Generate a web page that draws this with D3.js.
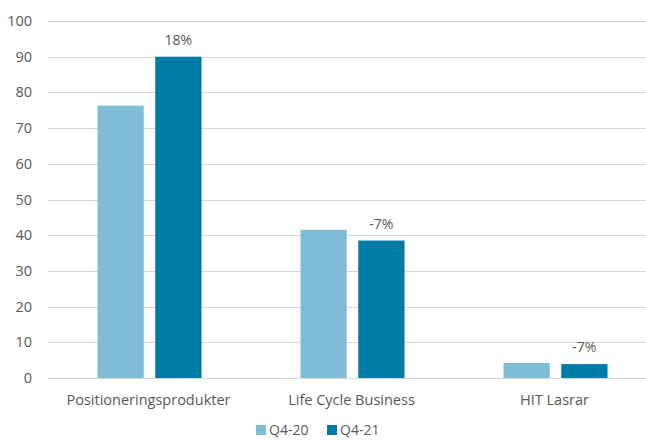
<!DOCTYPE html>
<html lang="sv">
<head>
    <meta charset="UTF-8">
    <title>Q4-20 vs Q4-21</title>
    <script src="https://cdn.jsdelivr.net/npm/d3@7"></script>
</head>
<body>
<style>
    body {
        margin: 0;
        background-color: white;
    }
    svg text {
        font-family: "Open Sans", "Liberation Sans", sans-serif;
        fill: #595959;
    }
    .grid line {
        stroke: #d9d9d9;
        stroke-width: 1;
        shape-rendering: crispEdges;
    }
</style>
<svg width="646" height="441"></svg>
<script>
    var categories = ["Positioneringsprodukter", "Life Cycle Business", "HIT Lasrar"];
    var seriesNames = ["Q4-20", "Q4-21"];
    var q420 = [76.3, 41.5, 4.2];
    var q421 = [90, 38.5, 3.9];
    var changeLabels = ["18%", "-7%", "-7%"];
    var yTicks = [0, 10, 20, 30, 40, 50, 60, 70, 80, 90, 100];
    var colors = ["#7fbcd5", "#007aa6"];

    var svg = d3.select("svg");

    var getX = d3.scaleBand()
        .domain(categories)
        .range([48, 657]);
    var getSub = d3.scaleBand()
        .domain(seriesNames)
        .range([49.5, 153.5])
        .paddingInner(0.2);
    var getY = d3.scaleLinear()
        .domain([0, 100])
        .range([378, 21]);

    // gridlines
    svg.append("g")
        .attr("class", "grid")
        .selectAll("line")
        .data(yTicks)
        .enter()
        .append("line")
        .attr("x1", 48)
        .attr("x2", 646)
        .attr("y1", function (d) { return Math.round(getY(d)) + 0.5; })
        .attr("y2", function (d) { return Math.round(getY(d)) + 0.5; });

    // y labels
    svg.selectAll(".yLabel")
        .data(yTicks)
        .enter()
        .append("text")
        .attr("class", "yLabel")
        .attr("x", 32)
        .attr("y", function (d) { return getY(d); })
        .attr("dy", "0.35em")
        .attr("text-anchor", "end")
        .style("font-size", "14.5px")
        .text(function (d) { return d; });

    var rows = categories.map(function (c, i) {
        return {cat: c, values: [q420[i], q421[i]], change: changeLabels[i]};
    });

    var groups = svg.selectAll(".group")
        .data(rows)
        .enter()
        .append("g")
        .attr("class", "group")
        .attr("transform", function (d) { return "translate(" + getX(d.cat) + ",0)"; });

    groups.selectAll("rect")
        .data(function (d) {
            return d.values.map(function (v, j) { return {name: seriesNames[j], value: v, idx: j}; });
        })
        .enter()
        .append("rect")
        .attr("x", function (d) { return getSub(d.name); })
        .attr("width", getSub.bandwidth())
        .attr("y", function (d) { return getY(d.value); })
        .attr("height", function (d) { return getY(0) - getY(d.value); })
        .attr("fill", function (d) { return colors[d.idx]; });

    // change labels above the Q4-21 bar
    groups.append("text")
        .attr("x", getSub("Q4-21") + getSub.bandwidth() / 2)
        .attr("y", function (d) { return getY(d.values[1]) - 12; })
        .attr("text-anchor", "middle")
        .style("font-size", "14px")
        .text(function (d) { return d.change; });

    // category labels
    svg.selectAll(".catLabel")
        .data(categories)
        .enter()
        .append("text")
        .attr("class", "catLabel")
        .attr("x", function (d) { return getX(d) + getX.bandwidth() / 2 - 1; })
        .attr("y", 400)
        .attr("dy", "0.35em")
        .attr("text-anchor", "middle")
        .style("font-size", "14.5px")
        .text(function (d) { return d; });

    // legend
    var legend = svg.selectAll(".legend")
        .data(seriesNames)
        .enter()
        .append("g")
        .attr("class", "legend")
        .attr("transform", function (d, i) { return "translate(" + (256 + i * 71) + ",425)"; });
    legend.append("rect")
        .attr("width", 10)
        .attr("height", 10)
        .attr("fill", function (d, i) { return colors[i]; });
    legend.append("text")
        .attr("x", 13)
        .attr("y", 5)
        .attr("dy", "0.35em")
        .style("font-size", "14px")
        .text(function (d) { return d; });
</script>
</body>
</html>
